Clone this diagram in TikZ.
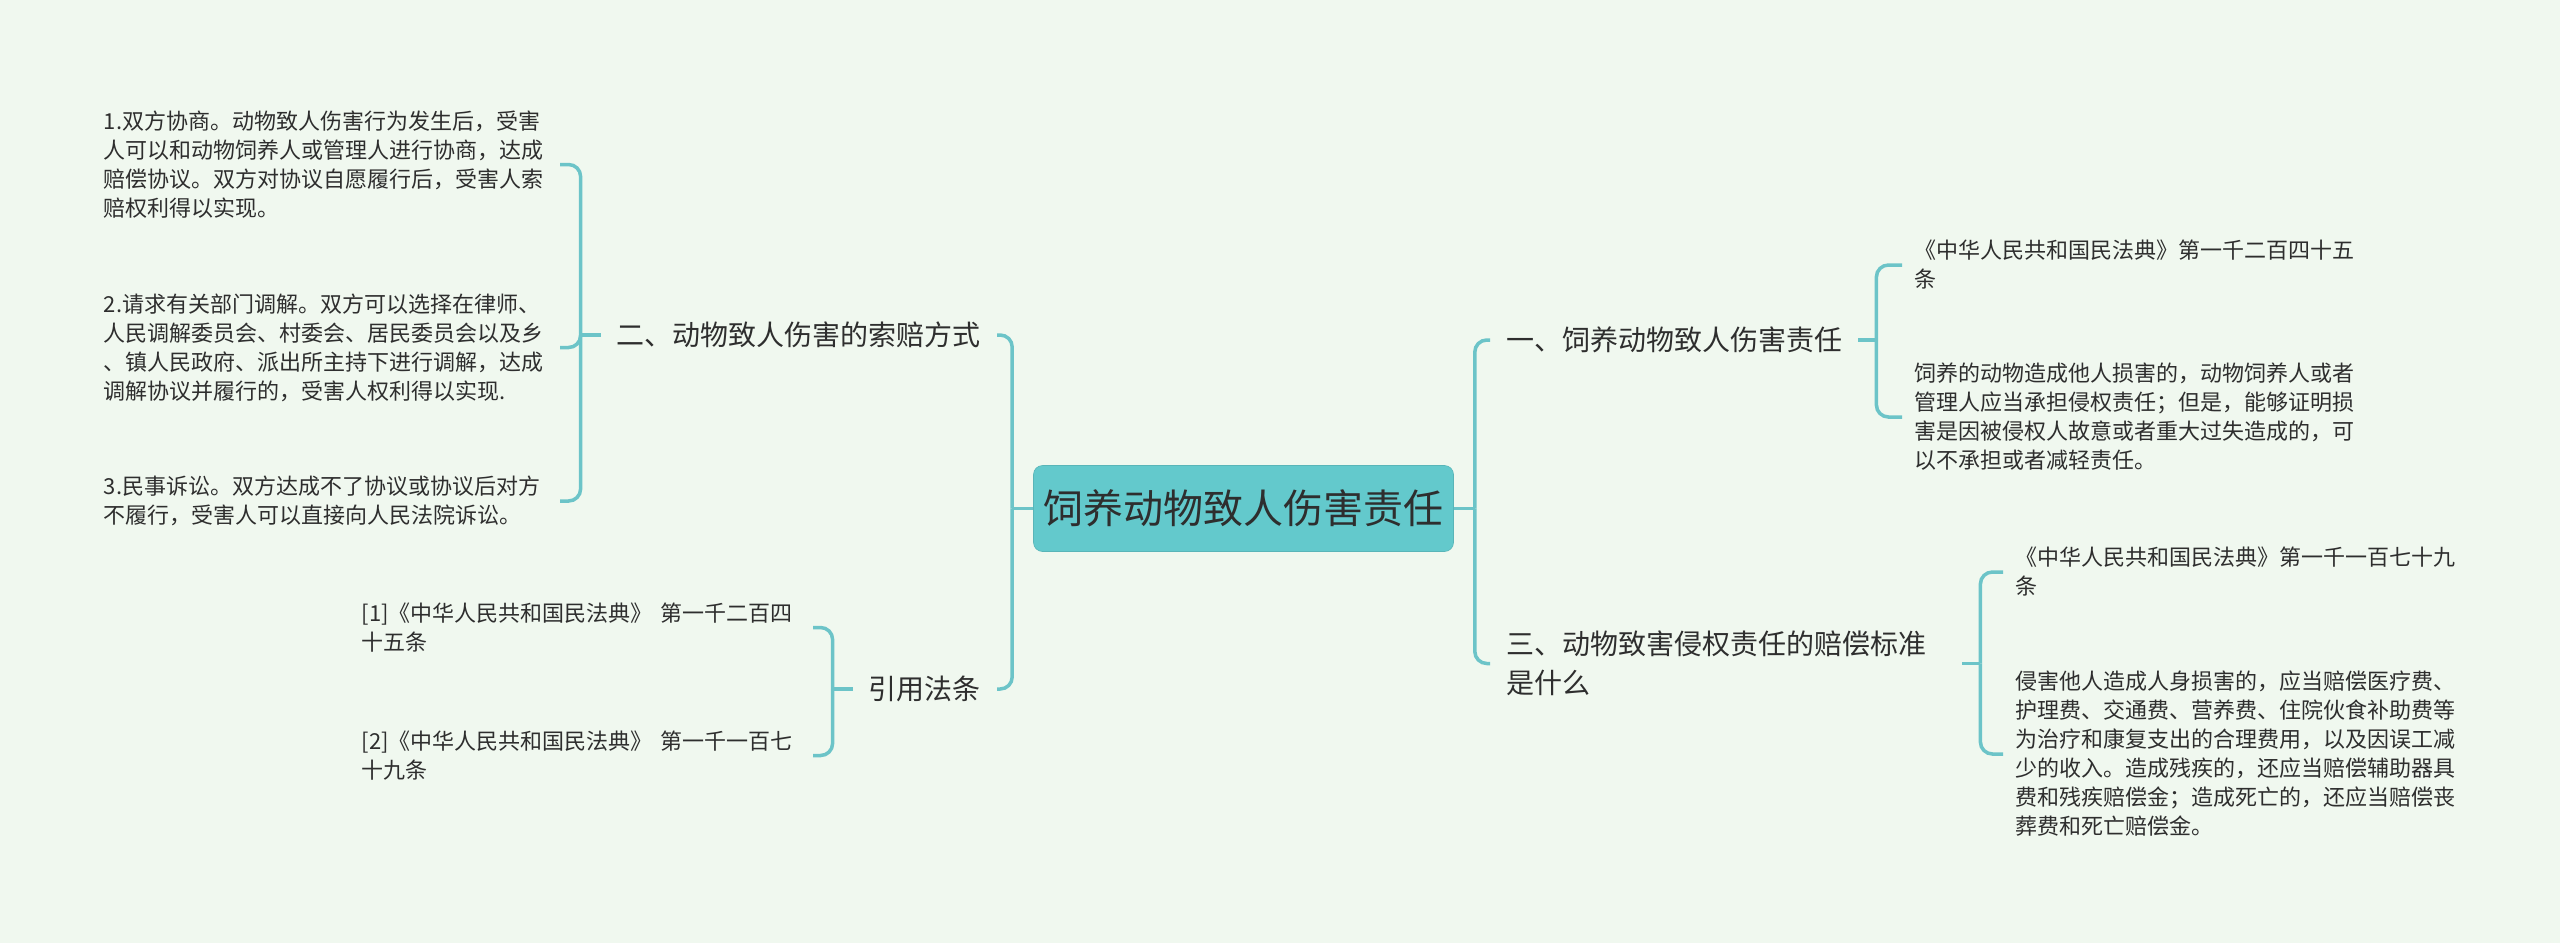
\documentclass[tikz,border=0pt]{standalone}
\usepackage{fontspec}
\setmainfont{Noto Sans CJK SC}
\definecolor{bgcol}{HTML}{F0F8EF}
\definecolor{linkcol}{HTML}{6CC4C8}
\definecolor{rootcol}{HTML}{63C9CC}
\definecolor{txtcol}{HTML}{2E2E2E}
\tikzset{
    link/.style = {draw=linkcol, line width=3.5pt, rounded corners=12pt},
    leaf/.style = {font=\fontsize{22}{29}\selectfont, text=txtcol, align=left,
        text width=444pt, inner xsep=12pt, inner ysep=3pt},
    branch/.style = {font=\fontsize{28}{39}\selectfont, text=txtcol, align=left,
        inner xsep=16pt, inner ysep=3pt},
    rootbox/.style = {font=\fontsize{40}{48}\selectfont, text=txtcol, fill=rootcol,
        draw=rootcol!90!black, line width=0.6pt, rounded corners=9pt,
        inner xsep=10pt, minimum width=413pt, minimum height=86pt}
}
\begin{document}
\begin{tikzpicture}[x=1pt, y=-1pt]
    \fill[bgcol] (0,0) rectangle (2560,943);
    \useasboundingbox (0,0) rectangle (2560,943);

    \node[rootbox] (root) at (1243.5,508.5) {饲养动物致人伤害责任};

    % left side
    \node[branch, anchor=east] (claim) at (997,335) {二、动物致人伤害的索赔方式};
    \node[branch, anchor=east] (cite) at (997,689) {引用法条};

    \node[leaf, anchor=east] (way1) at (560,164.5) {1.双方协商。动物致人伤害行为发生后，受害\\人可以和动物饲养人或管理人进行协商，达成\\赔偿协议。双方对协议自愿履行后，受害人索\\赔权利得以实现。};
    \node[leaf, anchor=east] (way2) at (560,347.5) {2.请求有关部门调解。双方可以选择在律师、\\人民调解委员会、村委会、居民委员会以及乡\\、镇人民政府、派出所主持下进行调解，达成\\调解协议并履行的，受害人权利得以实现.};
    \node[leaf, anchor=east] (way3) at (560,501) {3.民事诉讼。双方达成不了协议或协议后对方\\不履行，受害人可以直接向人民法院诉讼。};

    \node[leaf, anchor=east, text width=439pt] (law1) at (813,627.5) {[1]《中华人民共和国民法典》 第一千二百四\\十五条};
    \node[leaf, anchor=east, text width=439pt] (law2) at (813,755.5) {[2]《中华人民共和国民法典》 第一千一百七\\十九条};

    % right side
    \node[branch, anchor=west] (duty) at (1490,340) {一、饲养动物致人伤害责任};
    \node[branch, anchor=west, text width=440pt] (standard) at (1490,663.5) {三、动物致害侵权责任的赔偿标准\\是什么};

    \node[leaf, anchor=west] (duty1) at (1902,265) {《中华人民共和国民法典》第一千二百四十五\\条};
    \node[leaf, anchor=west] (duty2) at (1902,417) {饲养的动物造成他人损害的，动物饲养人或者\\管理人应当承担侵权责任；但是，能够证明损\\害是因被侵权人故意或者重大过失造成的，可\\以不承担或者减轻责任。};

    \node[leaf, anchor=west] (std1) at (2003,572) {《中华人民共和国民法典》第一千一百七十九\\条};
    \node[leaf, anchor=west] (std2) at (2003,754) {侵害他人造成人身损害的，应当赔偿医疗费、\\护理费、交通费、营养费、住院伙食补助费等\\为治疗和康复支出的合理费用，以及因误工减\\少的收入。造成残疾的，还应当赔偿辅助器具\\费和残疾赔偿金；造成死亡的，还应当赔偿丧\\葬费和死亡赔偿金。};

    % connectors
    \draw[link] (root.west) -- ++(-21,0) coordinate (jl);
    \draw[link] (jl) |- (claim.east);
    \draw[link] (jl) |- (cite.east);
    \draw[link] (root.east) -- ++(21,0) coordinate (jr);
    \draw[link] (jr) |- (duty.west);
    \draw[link] (jr) |- (standard.west);

    \draw[link] (claim.west) -- ++(-20,0) coordinate (jclaim);
    \draw[link] (jclaim) |- (way1.east);
    \draw[link] (jclaim) |- (way2.east);
    \draw[link] (jclaim) |- (way3.east);

    \draw[link] (cite.west) -- ++(-20,0) coordinate (jcite);
    \draw[link] (jcite) |- (law1.east);
    \draw[link] (jcite) |- (law2.east);

    \draw[link] (duty.east) -- ++(18,0) coordinate (jduty);
    \draw[link] (jduty) |- (duty1.west);
    \draw[link] (jduty) |- (duty2.west);

    \draw[link] (standard.east) -- ++(18,0) coordinate (jstd);
    \draw[link] (jstd) |- (std1.west);
    \draw[link] (jstd) |- (std2.west);
\end{tikzpicture}
\end{document}
